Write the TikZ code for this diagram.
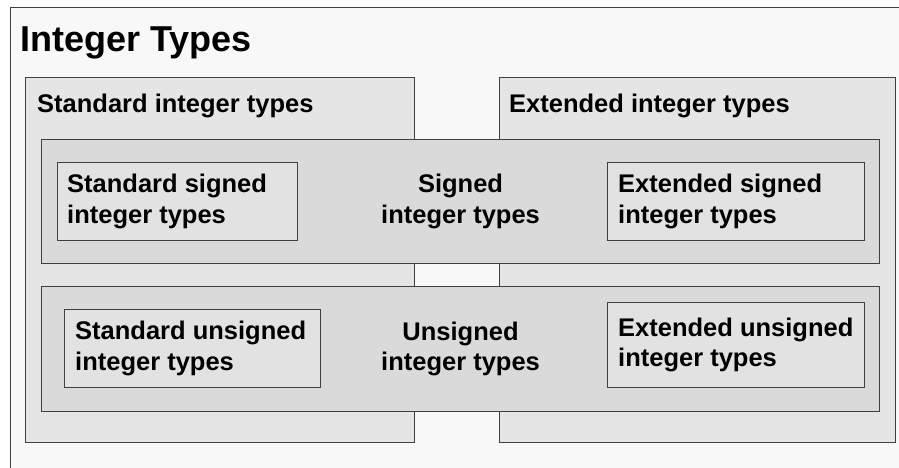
\documentclass[tikz,border=0pt]{standalone}
\usepackage{fontspec}
\setmainfont{Liberation Sans}
\usetikzlibrary{positioning}
\definecolor{pagebg}{HTML}{F8F8F8}
\definecolor{kindbg}{HTML}{E5E5E5}
\definecolor{signbg}{HTML}{DADADA}
\definecolor{leafbg}{HTML}{E2E2E2}
\definecolor{rim}{HTML}{404040}
\begin{document}
\begin{tikzpicture}[x=1pt,y=-1pt]
    \tikzstyle{box}=[draw=rim,line width=1.1pt,rectangle,anchor=north west,inner sep=0pt]
    \tikzstyle{txt}=[inner sep=0pt,align=left,font=\fontsize{25.5}{30.5}\selectfont\bfseries]
    \tikzstyle{mid}=[inner sep=0pt,align=center,font=\fontsize{25.5}{30.5}\selectfont\bfseries]
    \useasboundingbox[fill=white] (0,0) rectangle (899,468);
    \clip (0,0) rectangle (899,468);

    \node[box,fill=pagebg,minimum width=900pt,minimum height=470pt] (all) at (10,7) {};
    \node[anchor=base west,inner sep=0pt,font=\fontsize{36}{40}\selectfont\bfseries] (title) at (20,52) {Integer Types};

    % standard / extended
    \node[box,fill=kindbg,minimum width=389pt,minimum height=365pt] (std) at (25,77) {};
    \node[box,fill=kindbg,minimum width=396pt,minimum height=365pt] (ext) at (499,77) {};
    \node[txt,anchor=base west] (stdT) at (37,113) {Standard integer types};
    \node[txt,anchor=base west] (extT) at (509,113) {Extended integer types};

    % signed / unsigned
    \node[box,fill=signbg,minimum width=838pt,minimum height=124pt] (sgn) at (41,139) {};
    \node[box,fill=signbg,minimum width=838pt,minimum height=125pt] (uns) at (41,286) {};
    \node[mid] (sgnT) at (sgn.center) {Signed\\integer types};
    \node[mid] (unsT) at (uns.center) {Unsigned\\integer types};

    \node[box,fill=leafbg,minimum width=240pt,minimum height=78pt] (ss) at (57,162) {};
    \node[box,fill=leafbg,minimum width=257pt,minimum height=78pt] (es) at (607,162) {};
    \node[box,fill=leafbg,minimum width=256pt,minimum height=78pt] (su) at (64,309) {};
    \node[box,fill=leafbg,minimum width=257pt,minimum height=85pt] (eu) at (607,302) {};
    \node[txt,right=10pt of ss.west] (ssT) {Standard signed\\integer types};
    \node[txt,right=11pt of es.west] (esT) {Extended signed\\integer types};
    \node[txt,right=11pt of su.west] (suT) {Standard unsigned\\integer types};
    \node[txt,right=11pt of eu.west] (euT) {Extended unsigned\\integer types};
\end{tikzpicture}
\end{document}
